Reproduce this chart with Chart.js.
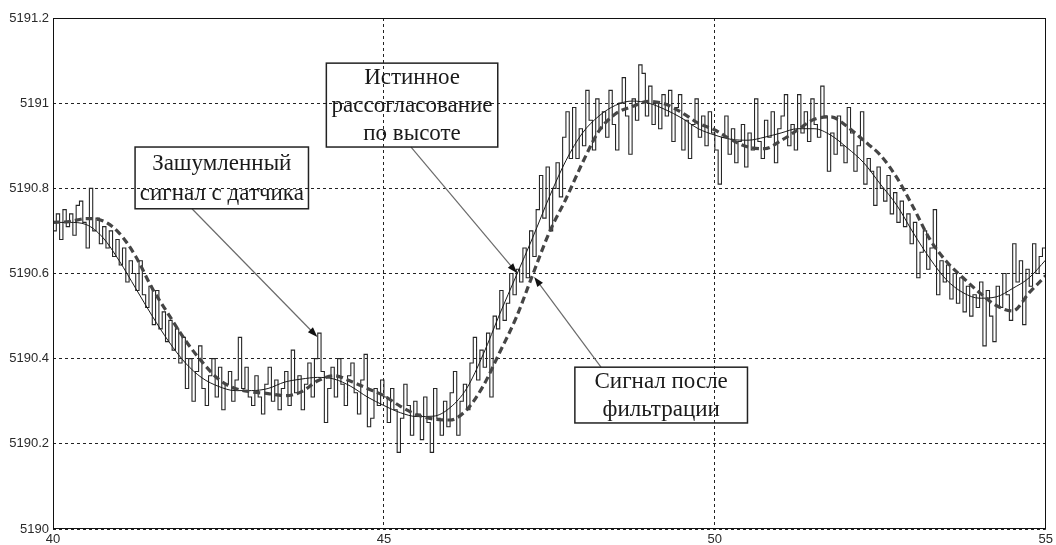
<!DOCTYPE html>
<html lang="ru">
<head>
<meta charset="utf-8">
<title>Рассогласование по высоте</title>
<script src="https://cdn.jsdelivr.net/npm/chart.js@4/dist/chart.umd.min.js"></script>
<style>
  html, body { margin: 0; padding: 0; background: #fff; }
  #wrap { width: 1056px; height: 545px; position: relative; }
</style>
</head>
<body>
<div id="wrap"><canvas id="plot"></canvas></div>
<script>
// Time axis, seconds
const T_START = 40;
const T_END = 55;
const X_TICK_STEP = 5;

// Height axis, metres
const Y_MIN = 5190;
const Y_MAX = 5191.2;
const Y_TICK_STEP = 0.2;

// Noisy sensor signal: one sample every 0.05 s starting at T_START
const NOISY_STEP = 0.05;
const noisySensor = [
  5190.70, 5190.74, 5190.68, 5190.75, 5190.71, 5190.74, 5190.69, 5190.76, 5190.77, 5190.72,
  5190.66, 5190.80, 5190.70, 5190.73, 5190.67, 5190.71, 5190.66, 5190.70, 5190.64, 5190.68,
  5190.62, 5190.66, 5190.58, 5190.63, 5190.60, 5190.56, 5190.63, 5190.55, 5190.52, 5190.57,
  5190.48, 5190.56, 5190.47, 5190.51, 5190.44, 5190.49, 5190.42, 5190.47, 5190.39, 5190.45,
  5190.33, 5190.40, 5190.30, 5190.37, 5190.43, 5190.33, 5190.29, 5190.36, 5190.40, 5190.31,
  5190.38, 5190.28, 5190.34, 5190.37, 5190.30, 5190.35, 5190.45, 5190.33, 5190.38, 5190.31,
  5190.29, 5190.36, 5190.31, 5190.27, 5190.34, 5190.38, 5190.30, 5190.35, 5190.28, 5190.33,
  5190.37, 5190.29, 5190.42, 5190.32, 5190.36, 5190.28, 5190.34, 5190.39, 5190.31, 5190.40,
  5190.46, 5190.37, 5190.25, 5190.33, 5190.38, 5190.31, 5190.40, 5190.34, 5190.29, 5190.36,
  5190.39, 5190.32, 5190.27, 5190.35, 5190.41, 5190.24, 5190.26, 5190.33, 5190.29, 5190.35,
  5190.31, 5190.25, 5190.33, 5190.28, 5190.18, 5190.26, 5190.34, 5190.29, 5190.22, 5190.30,
  5190.27, 5190.21, 5190.31, 5190.25, 5190.18, 5190.33, 5190.26, 5190.22, 5190.30, 5190.24,
  5190.32, 5190.37, 5190.22, 5190.30, 5190.34, 5190.28, 5190.39, 5190.45, 5190.35, 5190.42,
  5190.38, 5190.46, 5190.31, 5190.50, 5190.47, 5190.56, 5190.49, 5190.53, 5190.60, 5190.55,
  5190.61, 5190.58, 5190.66, 5190.59, 5190.70, 5190.64, 5190.75, 5190.83, 5190.73, 5190.85,
  5190.70, 5190.80, 5190.86, 5190.78, 5190.92, 5190.98, 5190.87, 5190.99, 5190.87, 5190.94,
  5190.90, 5191.03, 5190.96, 5190.89, 5191.01, 5190.94, 5190.98, 5190.92, 5191.03, 5190.95,
  5190.89, 5191.00, 5191.06, 5190.97, 5190.88, 5191.01, 5190.96, 5191.09, 5191.07, 5190.97,
  5191.04, 5190.95, 5191.00, 5190.94, 5191.02, 5190.97, 5191.03, 5190.91, 5190.99, 5191.02,
  5190.89, 5190.96, 5190.87, 5190.95, 5191.01, 5190.92, 5190.97, 5190.90, 5190.98, 5190.93,
  5190.89, 5190.81, 5190.92, 5190.97, 5190.88, 5190.94, 5190.86, 5190.91, 5190.95, 5190.85,
  5190.93, 5190.89, 5191.01, 5190.91, 5190.87, 5190.96, 5190.92, 5190.98, 5190.86, 5190.94,
  5190.97, 5191.02, 5190.90, 5190.95, 5190.89, 5191.02, 5190.93, 5190.98, 5190.91, 5191.01,
  5190.95, 5190.92, 5191.04, 5190.97, 5190.84, 5190.93, 5190.88, 5190.97, 5190.90, 5190.86,
  5190.99, 5190.93, 5190.84, 5190.90, 5190.98, 5190.81, 5190.87, 5190.84, 5190.76, 5190.85,
  5190.80, 5190.77, 5190.83, 5190.74, 5190.79, 5190.72, 5190.77, 5190.71, 5190.74, 5190.67,
  5190.72, 5190.59, 5190.65, 5190.70, 5190.61, 5190.66, 5190.75, 5190.55, 5190.63, 5190.58,
  5190.62, 5190.54, 5190.60, 5190.53, 5190.59, 5190.51, 5190.57, 5190.50, 5190.55, 5190.52,
  5190.58, 5190.43, 5190.56, 5190.50, 5190.44, 5190.57, 5190.52, 5190.60, 5190.55, 5190.49,
  5190.67, 5190.58, 5190.63, 5190.48, 5190.61, 5190.57, 5190.67, 5190.60, 5190.64, 5190.66,
  5190.61
];

// True height mismatch and filter output: one sample every 0.25 s starting at T_START
const SMOOTH_STEP = 0.25;
const trueMismatch = [
  5190.720, 5190.720, 5190.715, 5190.685, 5190.630, 5190.565, 5190.500, 5190.440,
  5190.390, 5190.355, 5190.335, 5190.325, 5190.325, 5190.330, 5190.345, 5190.352,
  5190.356, 5190.352, 5190.335, 5190.310, 5190.290, 5190.273, 5190.264, 5190.265,
  5190.285, 5190.330, 5190.410, 5190.505, 5190.595, 5190.685, 5190.780, 5190.865,
  5190.930, 5190.970, 5190.995, 5191.005, 5191.000, 5190.985, 5190.965, 5190.940,
  5190.925, 5190.915, 5190.913, 5190.920, 5190.930, 5190.940, 5190.940, 5190.925,
  5190.895, 5190.860, 5190.810, 5190.760, 5190.695, 5190.635, 5190.585, 5190.555,
  5190.542, 5190.545, 5190.565, 5190.590, 5190.632
];
const filteredSignal = [
  5190.720, 5190.722, 5190.729, 5190.724, 5190.695, 5190.640, 5190.565, 5190.503,
  5190.443, 5190.393, 5190.352, 5190.330, 5190.322, 5190.318, 5190.313, 5190.322,
  5190.348, 5190.360, 5190.347, 5190.330, 5190.313, 5190.288, 5190.268, 5190.258,
  5190.256, 5190.280, 5190.336, 5190.415, 5190.497, 5190.598, 5190.697, 5190.775,
  5190.860, 5190.935, 5190.975, 5190.992, 5191.004, 5190.998, 5190.978, 5190.953,
  5190.937, 5190.914, 5190.897, 5190.893, 5190.912, 5190.937, 5190.962, 5190.968,
  5190.945, 5190.912, 5190.878, 5190.825, 5190.755, 5190.680, 5190.628, 5190.590,
  5190.555, 5190.525, 5190.512, 5190.555, 5190.595
];

// Callout boxes with leader arrows, in axis units
const callouts = [
  {
    lines: ['Зашумленный', 'сигнал с датчика'],
    box: [41.24, 5190.897, 43.86, 5190.752],
    lineHeight: 30,
    arrowFrom: [42.10, 5190.752],
    arrowTo: [43.995, 5190.451]
  },
  {
    lines: ['Истинное', 'рассогласование', 'по высоте'],
    box: [44.13, 5191.094, 46.72, 5190.897],
    lineHeight: 28,
    arrowFrom: [45.41, 5190.897],
    arrowTo: [47.01, 5190.601]
  },
  {
    lines: ['Сигнал после', 'фильтрации'],
    box: [47.885, 5190.380, 50.493, 5190.249],
    lineHeight: 28,
    arrowFrom: [48.28, 5190.380],
    arrowTo: [47.27, 5190.592]
  }
];

const noisyPoints = noisySensor.map((v, i) => ({ x: T_START + i * NOISY_STEP, y: v }));
const truePoints = trueMismatch.map((v, i) => ({ x: T_START + i * SMOOTH_STEP, y: v }));
const filteredPoints = filteredSignal.map((v, i) => ({ x: T_START + i * SMOOTH_STEP, y: v }));

// Solid frame round the plot area plus the callouts
const framePlugin = {
  id: 'frameAndCallouts',
  afterDatasetsDraw(chart) {
    const { ctx, chartArea: a, scales } = chart;
    const xs = scales.x, ys = scales.y;
    ctx.save();
    ctx.strokeStyle = '#111';
    ctx.lineWidth = 1;
    ctx.setLineDash([]);
    ctx.strokeRect(Math.round(a.left) + 0.5, Math.round(a.top) + 0.5,
                   Math.round(a.right - a.left) - 1, Math.round(a.bottom - a.top) - 1);

    callouts.forEach(c => {
      const x1 = xs.getPixelForValue(c.box[0]);
      const y1 = ys.getPixelForValue(c.box[1]);
      const x2 = xs.getPixelForValue(c.box[2]);
      const y2 = ys.getPixelForValue(c.box[3]);

      // leader line
      const fx = xs.getPixelForValue(c.arrowFrom[0]);
      const fy = ys.getPixelForValue(c.arrowFrom[1]);
      const tx = xs.getPixelForValue(c.arrowTo[0]);
      const ty = ys.getPixelForValue(c.arrowTo[1]);
      const ang = Math.atan2(ty - fy, tx - fx);
      const headLen = 10, headHalf = 3.5;
      ctx.strokeStyle = '#6a6a6a';
      ctx.lineWidth = 1.2;
      ctx.beginPath();
      ctx.moveTo(fx, fy);
      ctx.lineTo(tx - Math.cos(ang) * headLen * 0.8, ty - Math.sin(ang) * headLen * 0.8);
      ctx.stroke();
      ctx.fillStyle = '#111';
      ctx.beginPath();
      ctx.moveTo(tx, ty);
      ctx.lineTo(tx - Math.cos(ang) * headLen - Math.sin(ang) * headHalf,
                 ty - Math.sin(ang) * headLen + Math.cos(ang) * headHalf);
      ctx.lineTo(tx - Math.cos(ang) * headLen + Math.sin(ang) * headHalf,
                 ty - Math.sin(ang) * headLen - Math.cos(ang) * headHalf);
      ctx.closePath();
      ctx.fill();

      // box
      ctx.strokeStyle = '#222';
      ctx.lineWidth = 1.5;
      ctx.strokeRect(x1, y1, x2 - x1, y2 - y1);

      // text
      ctx.fillStyle = '#1a1a1a';
      ctx.font = '23px "Liberation Serif", "DejaVu Serif", serif';
      ctx.textAlign = 'center';
      ctx.textBaseline = 'middle';
      const cx = (x1 + x2) / 2, cy = (y1 + y2) / 2;
      const n = c.lines.length;
      c.lines.forEach((t, i) => {
        ctx.fillText(t, cx, cy + (i - (n - 1) / 2) * c.lineHeight + 1);
      });
    });
    ctx.restore();
  }
};

const tickFont = { family: '"Liberation Sans", Arial, sans-serif', size: 13 };

new Chart(document.getElementById('plot'), {
  type: 'line',
  data: {
    datasets: [
      {
        label: 'Сигнал после фильтрации',
        data: filteredPoints,
        borderColor: '#454545',
        borderWidth: 3.2,
        borderDash: [7, 4],
        pointRadius: 0,
        cubicInterpolationMode: 'monotone',
        fill: false,
        order: 0
      },
      {
        label: 'Истинное рассогласование по высоте',
        data: truePoints,
        borderColor: '#1a1a1a',
        borderWidth: 1,
        pointRadius: 0,
        cubicInterpolationMode: 'monotone',
        fill: false,
        order: 1
      },
      {
        label: 'Зашумленный сигнал с датчика',
        data: noisyPoints,
        borderColor: '#262626',
        borderWidth: 1.1,
        pointRadius: 0,
        stepped: true,
        fill: false,
        order: 2
      }
    ]
  },
  options: {
    responsive: true,
    maintainAspectRatio: false,
    animation: false,
    layout: { padding: { top: 18, right: 8, left: 0, bottom: 0 } },
    plugins: {
      legend: { display: false },
      tooltip: { enabled: false }
    },
    scales: {
      x: {
        type: 'linear',
        min: T_START,
        max: T_END,
        afterFit(scale) { scale.height = 16; },
        ticks: {
          stepSize: X_TICK_STEP,
          color: '#2a2a2a',
          font: tickFont,
          padding: 3,
          maxRotation: 0,
          callback: v => String(v)
        },
        grid: { color: '#222', lineWidth: 1, drawTicks: false },
        border: { display: false, dash: [3, 3] }
      },
      y: {
        type: 'linear',
        min: Y_MIN,
        max: Y_MAX,
        afterFit(scale) { scale.width = 53; },
        ticks: {
          stepSize: Y_TICK_STEP,
          color: '#2a2a2a',
          font: tickFont,
          padding: 4,
          callback: v => String(Number(v.toFixed(1)))
        },
        grid: { color: '#222', lineWidth: 1, drawTicks: false },
        border: { display: false, dash: [3, 3] }
      }
    }
  },
  plugins: [framePlugin]
});
</script>
</body>
</html>
